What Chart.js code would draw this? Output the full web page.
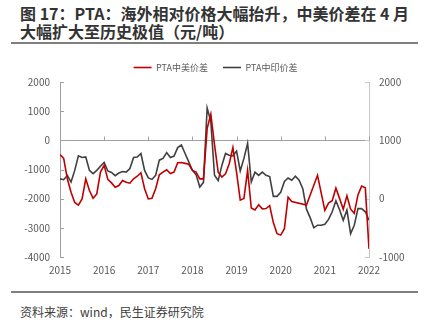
<!DOCTYPE html>
<html>
<head>
<meta charset="utf-8">
<script src="https://cdn.jsdelivr.net/npm/chart.js@4"></script>
<style>
  body { margin: 0; width: 431px; height: 323px; background: #fff; position: relative; overflow: hidden; font-family: 'Noto Sans CJK SC', sans-serif; }
  .title { position: absolute; left: 20px; top: 4px; font-size: 16px; font-weight: bold; line-height: 18px; color: #333; }
  .rule { position: absolute; left: 11px; width: 407px; background: #7f7f7f; }
  .source { position: absolute; left: 20px; top: 303px; font-size: 12px; color: #404040; }
  .wrap { position: absolute; left: 0; top: 48px; width: 431px; height: 235px; }
</style>
</head>
<body>
<div class="title">图 17：PTA：海外相对价格大幅抬升，中美价差在 4 月<br>大幅扩大至历史极值（元/吨）</div>
<div class="rule" style="top:42px;height:2px"></div>
<div class="wrap"><canvas id="myChart"></canvas></div>
<div class="rule" style="top:291px;height:2px"></div>
<div class="source">资料来源：wind，民生证券研究院</div>
<script>
// monthly, 2015-01 .. 2022-01
const startYear = 2015
const usSpread = [
  -490, -620, -1320, -1780, -2130, -2220, -2010, -1320, -1720, -1990, -1840, -1090,
  -860, -1340, -1460, -1610, -1550, -1380, -1440, -1470, -1320, -1230, -1110, -1660,
  -2010, -1990, -1660, -1180, -1090, -1010, -1140, -1090, -770, -760, -790, -820,
  -1030, -1090, -1320, -1320, 400, 900, -150, -1090, -1260, -1150, -800, -250,
  -1100, -2050, -1990, -1030, -2320, -2390, -2210, -2350, -2340, -2240, -2820, -3200,
  -3250, -3030, -1950, -2100, null, null, null, -2220, null, null, -1200, null,
  -2400, -2150, -2070, -1640, -1990, -2360, -1900, -2360, -2500, -1870, -1570, -1630,
  -3720
]
const indiaSpread = [
  340, 325, 400, 285, 485, 735, 705, 715, 485, 430, 485, 555,
  620, 475, 450, 395, 440, 465, 455, 515, 705, 715, 775, 485,
  355, 330, 400, 660, 690, 790, 705, 730, 875, 920, 775, 630,
  485, 410, 200, 280, 1555, 1325, 400, 310, 570, 775, 745, 735,
  815, 475, 690, 950, 285, 455, 400, 455, 400, 380, 40, 40,
  110, 295, 355, 315, 385, 315, 170, -180, -325, -500, -455, -455,
  -440, -355, -225, -35, -190, -370, -195, -600, -455, -170, -170, -225,
  -370
]
const leftTicks = [-4000, -3000, -2000, -1000, 0, 1000, 2000]
const rightTicks = [-1000, 0, 1000, 2000]

Chart.defaults.font.family = "'Noto Sans CJK SC', sans-serif"
Chart.defaults.font.size = 10
Chart.defaults.color = '#595959'

const toPoints = arr => arr.map((v, i) => ({ x: i, y: v }))

// zero line with year ticks, and inward ticks on both value axes
const axisMarks = {
  id: 'axisMarks',
  beforeDatasetsDraw(chart) {
    const { ctx, chartArea, scales } = chart
    const yL = scales.y, yR = scales.y1, x = scales.x
    const y0 = Math.round(yL.getPixelForValue(0)) + 0.5
    ctx.save()
    ctx.strokeStyle = '#a0a0a0'
    ctx.lineWidth = 1
    ctx.beginPath()
    ctx.moveTo(chartArea.left, y0)
    ctx.lineTo(chartArea.right, y0)
    for (let m = 12; m <= 84; m += 12) {
      const px = Math.round(x.getPixelForValue(m)) + 0.5
      ctx.moveTo(px, y0)
      ctx.lineTo(px, y0 - 4)
    }
    leftTicks.forEach(t => {
      const py = Math.round(yL.getPixelForValue(t)) + 0.5
      ctx.moveTo(chartArea.left, py)
      ctx.lineTo(chartArea.left + 4, py)
    })
    ctx.stroke()
    ctx.strokeStyle = '#c8c8c8'
    ctx.beginPath()
    rightTicks.forEach(t => {
      const py = Math.round(yR.getPixelForValue(t)) + 0.5
      ctx.moveTo(chartArea.right, py)
      ctx.lineTo(chartArea.right - 4, py)
    })
    ctx.stroke()
    ctx.restore()
  }
}

const ctx = document.getElementById('myChart').getContext('2d')
new Chart(ctx, {
  type: 'line',
  data: {
    datasets: [{
      label: 'PTA中美价差',
      data: toPoints(usSpread),
      borderColor: '#c00000',
      backgroundColor: '#c00000',
      borderWidth: 1.6,
      pointRadius: 0,
      spanGaps: true,
      yAxisID: 'y'
    }, {
      label: 'PTA中印价差',
      data: toPoints(indiaSpread),
      borderColor: '#404040',
      backgroundColor: '#404040',
      borderWidth: 1.6,
      pointRadius: 0,
      spanGaps: true,
      yAxisID: 'y1'
    }]
  },
  options: {
    responsive: true,
    maintainAspectRatio: false,
    animation: false,
    layout: { padding: { left: 0, right: 0, top: 0, bottom: 0 } },
    plugins: {
      legend: {
        labels: {
          usePointStyle: true,
          pointStyle: 'line',
          pointStyleWidth: 18,
          boxHeight: 9,
          padding: 15,
          font: { size: 9 },
          color: '#595959'
        }
      },
      tooltip: { enabled: false }
    },
    scales: {
      x: {
        type: 'linear',
        min: 0,
        max: 84,
        grid: { display: false, drawTicks: false },
        border: { display: false },
        ticks: {
          stepSize: 12,
          padding: 7,
          maxRotation: 0,
          callback: v => startYear + v / 12
        },
        afterFit: s => { s.height = 26 }
      },
      y: {
        position: 'left',
        min: -4000,
        max: 2000,
        grid: { display: false, drawTicks: false },
        border: { display: true, color: '#a0a0a0' },
        ticks: { stepSize: 1000, padding: 10, callback: v => v },
        afterFit: s => { s.width = 60 }
      },
      y1: {
        position: 'right',
        min: -1000,
        max: 2000,
        grid: { display: false, drawTicks: false },
        border: { display: true, color: '#c8c8c8' },
        ticks: { stepSize: 1000, padding: 10, callback: v => v },
        afterFit: s => { s.width = 62 }
      }
    }
  },
  plugins: [axisMarks]
})
</script>
</body>
</html>
